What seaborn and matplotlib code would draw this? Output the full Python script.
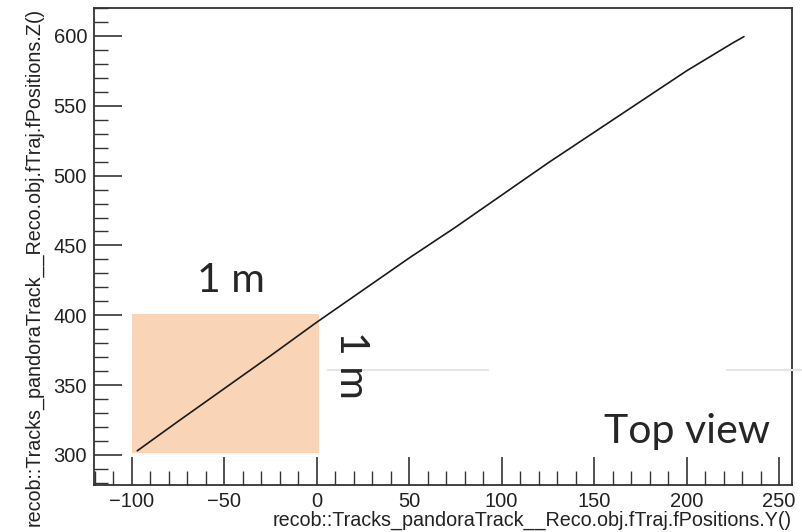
import matplotlib
matplotlib.use("Agg")
import matplotlib.pyplot as plt
import seaborn as sns
import pandas as pd
from matplotlib.patches import Rectangle
from matplotlib.lines import Line2D
from matplotlib.ticker import MultipleLocator

# Track trajectory points
track_y = [-97, -75, -50, -25, 0, 25, 50, 75, 100, 125, 150, 175, 200, 215, 225, 231]
track_z = [303, 324, 347.5, 371, 395, 418, 441, 463, 486, 509, 531, 553, 575, 587, 595, 599.5]

x_ticks = [-100, -50, 0, 50, 100, 150, 200, 250]
y_ticks = [300, 350, 400, 450, 500, 550, 600]

xlabel = "recob::Tracks_pandoraTrack__Reco.obj.fTraj.fPositions.Y()"
ylabel = "recob::Tracks_pandoraTrack__Reco.obj.fTraj.fPositions.Z()"

sns.set_theme(style="white")
plt.rcParams["font.family"] = ["Liberation Sans", "DejaVu Sans"]

fig = plt.figure(figsize=(8.02, 5.32), dpi=100)
ax = fig.add_axes([94 / 802, 1 - 485 / 532, (792 - 94) / 802, (485 - 8) / 532])

# 1 m box (behind the track)
ax.add_patch(Rectangle((-100, 301.5), 101.5, 99.5, facecolor="#FAD4B6",
                       edgecolor="none", zorder=1))

df = pd.DataFrame({"Y": track_y, "Z": track_z})
sns.lineplot(data=df, x="Y", y="Z", sort=False, color="#1a1a1a", linewidth=1.2, ax=ax, zorder=2)

ax.set_xlim(-120.4, 257)
ax.set_ylim(278.5, 620)

ax.set_xticks(x_ticks)
ax.set_yticks(y_ticks)
ax.xaxis.set_minor_locator(MultipleLocator(10))
ax.yaxis.set_minor_locator(MultipleLocator(10))
ax.tick_params(which="major", direction="in", length=20, width=1.2, color="#333333",
               labelsize=14.5, labelcolor="#222222", pad=5,
               bottom=True, left=True, top=False, right=False)
ax.tick_params(which="minor", direction="in", length=10, width=1.0, color="#333333",
               bottom=True, left=True, top=False, right=False)
ax.set_xticklabels([str(v).replace("-", "\u2212") for v in x_ticks])
ax.set_yticklabels([str(v) for v in y_ticks])

for s in ax.spines.values():
    s.set_color("#333333")
    s.set_linewidth(1.3)

ax.set_xlabel(xlabel, fontsize=14.2, color="#222222", ha="right", x=1.0, labelpad=0)
ax.set_ylabel(ylabel, fontsize=14.2, color="#222222", ha="right", y=1.0, labelpad=7)

# Slide annotations
tfont = ["Lato", "DejaVu Sans"]
fig.text(231 / 802, 1 - 280 / 532, "1 m", fontsize=29.5, family=tfont, ha="center", va="center")
fig.text(351 / 802, 1 - 365 / 532, "1 m", fontsize=29.5, family=tfont, rotation=-90,
         ha="center", va="center")
fig.text(687 / 802, 1 - 432 / 532, "Top view", fontsize=29.5, family=tfont, ha="center", va="center")

# faint horizontal slide lines
for x0, x1 in [(328, 488), (727, 802)]:
    fig.add_artist(Line2D([x0 / 802, x1 / 802], [1 - 370 / 532, 1 - 370 / 532],
                          color="#E4E4E4", linewidth=1.5, transform=fig.transFigure))

fig.savefig("out.png", dpi=100)
